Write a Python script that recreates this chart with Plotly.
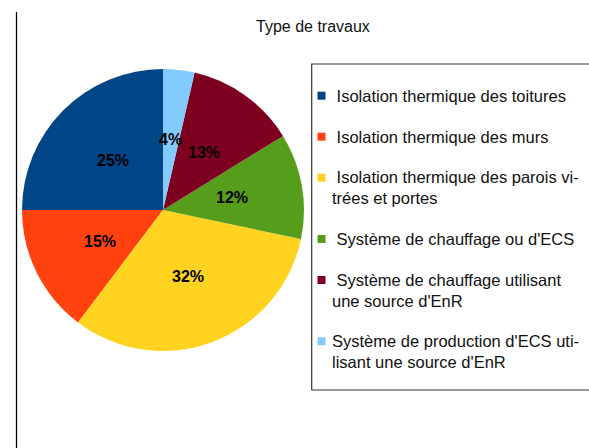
import math
import plotly.graph_objects as go

# ---- data ----
categories = [
    "Isolation thermique des toitures",
    "Isolation thermique des murs",
    "Isolation thermique des parois vi-<br>trées et portes",
    "Système de chauffage ou d'ECS",
    "Système de chauffage utilisant<br>une source d'EnR",
    "Système de production d'ECS uti-<br>lisant une source d'EnR",
]
legend_prefix = ["\u00a0", "\u00a0", "\u00a0", "\u00a0", "\u00a0", ""]
values = [25, 14.7, 32.0, 12.1, 12.6, 3.6]
colors = ["#004586", "#ff420e", "#ffd320", "#579d1c", "#7e0021", "#83caff"]
title_text = "Type de travaux"

W, H = 589, 448
FONT = "Liberation Sans, Arial, sans-serif"

# pie geometry (pixels)
CX, CY, R = 163, 210, 141


def X(px):
    return px / W


def Y(py):
    return 1 - py / H


fig = go.Figure()
fig.add_trace(go.Pie(
    labels=[c.replace("<br>", " ") for c in categories],
    values=values,
    sort=False,
    direction="counterclockwise",
    rotation=-90,
    marker=dict(colors=colors, line=dict(width=0)),
    textinfo="none",
    domain=dict(x=[X(CX - R), X(CX + R)], y=[Y(CY + R), Y(CY - R)]),
    showlegend=False,
    hoverinfo="label+percent",
))

shapes = []
annotations = []

# percentage labels at half radius, on each slice's mid-angle
total = sum(values)
cum = 0.0
for v in values:
    mid = math.radians(90 + 360 * (cum + v / 2) / total)
    px = CX + 0.5 * R * math.cos(mid)
    py = CY - 0.5 * R * math.sin(mid)
    annotations.append(dict(
        xref="paper", yref="paper", x=X(px), y=Y(py),
        xanchor="center", yanchor="middle", showarrow=False,
        text="%d%%" % round(100 * v / total),
        font=dict(family=FONT, size=16, color="#000000", weight="bold")))
    cum += v

# left border line
shapes.append(dict(type="line", xref="paper", yref="paper",
                   x0=X(16.5), x1=X(16.5), y0=Y(12), y1=Y(H + 2),
                   line=dict(color="#000000", width=1.3)))

# legend box
shapes.append(dict(type="rect", xref="paper", yref="paper",
                   x0=X(311.7), x1=X(600), y0=Y(64), y1=Y(390),
                   line=dict(color="#333333", width=1.2), fillcolor="rgba(0,0,0,0)"))

# legend entries
line_h = 20.3
pitch = 41
y = 95.7
for cat, pre, col in zip(categories, legend_prefix, colors):
    nlines = cat.count("<br>") + 1
    shapes.append(dict(type="rect", xref="paper", yref="paper",
                       x0=X(317.5), x1=X(325.5), y0=Y(y + 4), y1=Y(y - 4),
                       line=dict(width=0), fillcolor=col))
    annotations.append(dict(
        xref="paper", yref="paper", x=X(330), y=Y(y + (nlines - 1) * line_h / 2),
        xanchor="left", yanchor="middle", align="left", showarrow=False,
        text=pre + cat, font=dict(family=FONT, size=16.5, color="#111111")))
    y += pitch + line_h * (nlines - 1)

# title
annotations.append(dict(xref="paper", yref="paper", x=X(313), y=Y(26.7),
                        xanchor="center", yanchor="middle", showarrow=False,
                        text=title_text, font=dict(family=FONT, size=16, color="#111111")))

fig.update_layout(
    width=W, height=H, autosize=False,
    margin=dict(l=0, r=0, t=0, b=0),
    paper_bgcolor="#ffffff", plot_bgcolor="#ffffff",
    shapes=shapes, annotations=annotations,
)

fig.write_html("out.html", config={"displayModeBar": False},
               post_script="document.body.style.margin='0';")
